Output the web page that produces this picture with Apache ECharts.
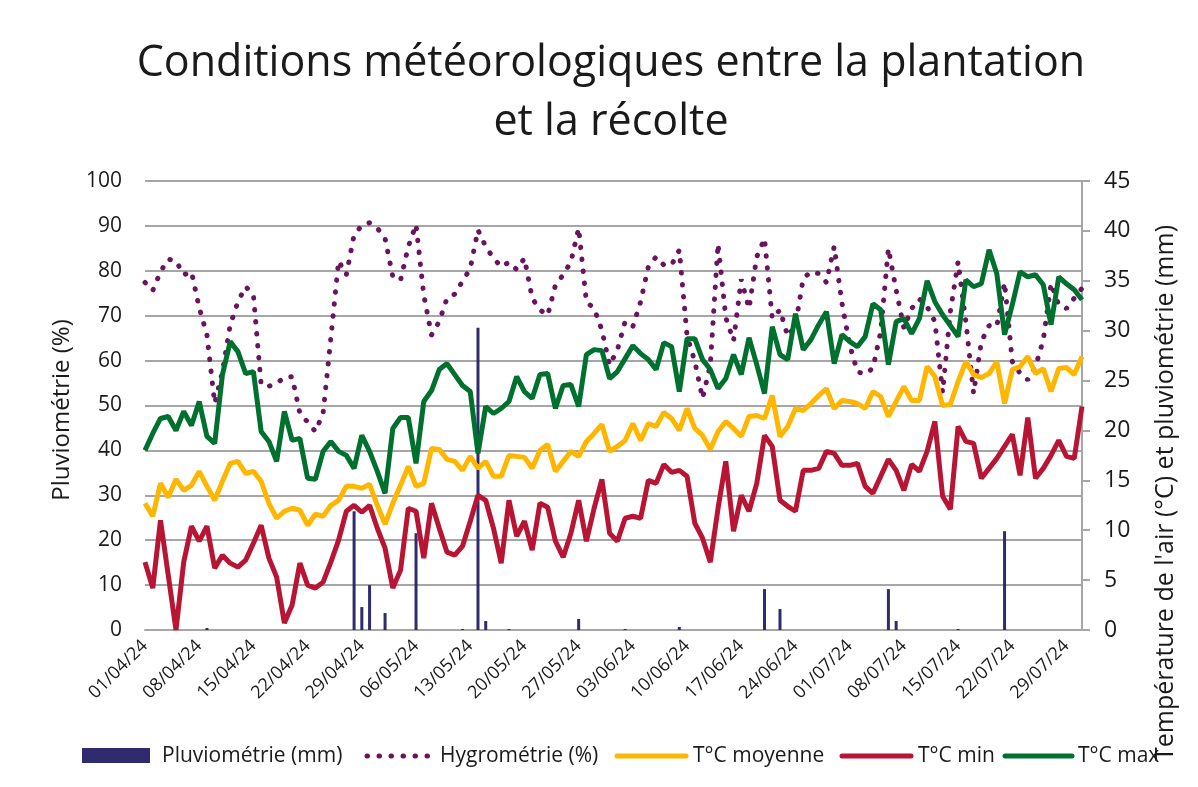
<!DOCTYPE html>
<html>
<head>
<meta charset="utf-8">
<script src="https://cdn.jsdelivr.net/npm/echarts@6/dist/echarts.min.js"></script>
<style>
  html, body { margin: 0; padding: 0; background: #fff; }
  #chart { width: 1198px; height: 787px; }
</style>
</head>
<body>
<div id="chart"></div>
<script>
// daily categories, 01/04/24 -> 31/07/24
var dayCount = 122;
var dates = [];
for (var d = 0; d < dayCount; d++) {
  var dt = new Date(2024, 3, 1 + d);
  var dd = ('0' + dt.getDate()).slice(-2);
  var mm = ('0' + (dt.getMonth() + 1)).slice(-2);
  dates.push(dd + '/' + mm + '/24');
}

// Pluviométrie (mm) - right axis
var pluvio = [
  0, 0, 0, 0, 0, 0, 0, 0, 0.2, 0, 0, 0, 0, 0, 0, 0, 0, 0,
  0, 0, 0, 0, 0, 0, 0, 0, 0, 11.9, 2.3, 4.5, 0, 1.7, 0, 0, 0,
  9.7, 0, 0, 0, 0, 0, 0.1, 0, 30.3, 0.9, 0, 0, 0.1, 0, 0, 0, 0, 0,
  0, 0, 0, 1.1, 0, 0, 0, 0, 0, 0.1, 0, 0, 0, 0, 0, 0, 0.3,
  0, 0, 0, 0, 0, 0, 0, 0, 0, 0, 4.1, 0, 2.1, 0, 0, 0, 0,
  0, 0, 0, 0, 0, 0, 0, 0, 0, 4.1, 0.9, 0, 0, 0, 0, 0, 0, 0,
  0.1, 0, 0, 0, 0, 0, 9.9, 0, 0, 0, 0, 0, 0, 0, 0, 0, 0
];

// Hygrométrie (%) - left axis
var hygro = [
  77.4, 75.6, 79.8, 82.6, 82.2, 79.1, 79.8, 71.8, 65.7, 50.5, 57.5, 67.9, 73.1, 76.5, 74.6, 54.6, 54.3, 54.9,
  56.3, 56.4, 48.3, 46.3, 44.2, 48.3, 65.0, 82.2, 79.1, 88.0, 90.1, 90.7, 89.5, 87.2, 78.7, 77.9, 85.4,
  90.3, 74.6, 65.7, 68.7, 73.9, 74.8, 77.7, 80.5, 89.1, 85.4, 82.8, 80.9, 81.9, 80.3, 82.8, 73.9, 71.3, 70.1,
  76.8, 79.1, 82.0, 89.5, 73.1, 71.6, 66.8, 59.0, 62.4, 68.7, 67.6, 73.1, 80.9, 83.1, 81.3, 81.3, 84.6,
  65.5, 59.8, 51.6, 59.0, 86.0, 69.6, 64.4, 78.1, 71.6, 83.1, 87.2, 69.4, 71.3, 65.4, 67.9, 78.3, 79.8,
  79.4, 77.4, 85.4, 72.8, 63.5, 57.5, 57.0, 58.3, 66.4, 85.0, 75.7, 67.2, 71.6, 73.7, 72.0, 68.7, 52.9, 70.9,
  82.0, 68.7, 52.7, 64.2, 67.8, 67.6, 77.4, 59.8, 57.2, 55.7, 58.7, 64.6, 77.2, 72.4, 71.6, 73.9, 76.1
];

// T°C moyenne - right axis
var tMoy = [
  12.7, 11.4, 14.7, 13.3, 15.1, 14.0, 14.5, 15.9, 14.4, 13.0, 14.9, 16.7, 16.9, 15.7, 15.9, 14.9, 12.7, 11.2,
  11.9, 12.2, 12.0, 10.5, 11.6, 11.4, 12.5, 13.0, 14.4, 14.4, 14.2, 14.6, 12.5, 10.6, 12.7, 14.5, 16.4,
  14.4, 14.7, 18.2, 18.1, 17.1, 16.9, 16.0, 17.4, 16.2, 16.9, 15.4, 15.4, 17.5, 17.4, 17.3, 16.2, 18.0, 18.6,
  15.9, 16.9, 17.9, 17.4, 18.9, 19.7, 20.6, 17.9, 18.4, 19.0, 20.7, 19.0, 20.7, 20.4, 21.8, 21.2, 20.0,
  22.2, 20.2, 19.5, 18.1, 19.9, 20.9, 20.2, 19.4, 21.4, 21.5, 21.2, 23.5, 19.4, 20.4, 22.2, 22.0, 22.7,
  23.5, 24.2, 22.2, 23.0, 22.9, 22.7, 22.2, 23.9, 23.4, 21.4, 22.9, 24.4, 23.0, 23.0, 26.4, 25.4, 22.5, 22.6,
  24.9, 26.9, 25.6, 25.3, 25.7, 26.9, 22.7, 26.1, 26.4, 27.4, 25.7, 26.2, 23.9, 26.2, 26.3, 25.6, 27.4
];

// T°C min - right axis
var tMin = [
  6.8, 4.2, 11.0, 5.5, 0.0, 6.8, 10.4, 8.9, 10.4, 6.2, 7.5, 6.7, 6.3, 7.0, 8.7, 10.5, 7.2, 5.3,
  0.7, 2.5, 6.7, 4.5, 4.2, 4.8, 6.8, 9.0, 11.9, 12.5, 11.8, 12.5, 10.2, 8.2, 4.2, 6.0, 12.2,
  11.9, 7.2, 12.7, 10.2, 7.8, 7.5, 8.4, 10.9, 13.5, 13.0, 10.2, 6.7, 13.0, 9.4, 10.9, 8.0, 12.7, 12.3,
  8.9, 7.3, 9.7, 13.0, 8.9, 12.2, 15.1, 9.7, 8.9, 11.2, 11.4, 11.2, 15.0, 14.7, 16.6, 15.8, 16.0,
  15.4, 10.7, 9.2, 6.8, 12.2, 16.9, 9.9, 13.5, 11.9, 14.7, 19.5, 18.4, 13.0, 12.4, 11.9, 16.0, 16.0,
  16.2, 17.9, 17.7, 16.5, 16.5, 16.7, 14.4, 13.7, 15.4, 17.1, 16.0, 14.0, 16.6, 15.9, 17.9, 20.9, 13.4, 12.1,
  20.4, 18.9, 18.7, 15.2, 16.2, 17.2, 18.4, 19.6, 15.5, 21.3, 15.2, 16.2, 17.5, 19.0, 17.4, 17.2, 22.4
];

// T°C max - right axis
var tMax = [
  18.0, 19.7, 21.2, 21.4, 20.0, 21.9, 20.5, 22.9, 19.4, 18.7, 25.6, 28.9, 27.9, 25.7, 25.9, 19.9, 18.9, 16.9,
  21.9, 19.0, 19.2, 15.2, 15.1, 17.9, 18.9, 17.9, 17.5, 16.2, 19.5, 17.9, 15.9, 13.7, 20.2, 21.3, 21.3,
  16.7, 22.9, 24.0, 26.1, 26.7, 25.6, 24.5, 23.9, 17.7, 22.4, 21.7, 22.2, 22.9, 25.4, 23.9, 23.2, 25.6, 25.7,
  22.2, 24.5, 24.6, 22.4, 27.6, 28.1, 28.0, 25.2, 25.9, 27.2, 28.5, 27.7, 27.1, 26.1, 28.8, 28.4, 23.9,
  29.2, 29.2, 27.1, 26.1, 24.2, 25.2, 27.6, 25.6, 29.3, 26.6, 23.7, 30.4, 27.6, 27.1, 31.7, 28.1, 29.1,
  30.6, 31.9, 26.7, 29.6, 28.9, 28.4, 29.4, 32.7, 32.1, 26.6, 30.9, 31.2, 29.7, 31.2, 35.0, 32.9, 31.6, 30.5,
  29.4, 35.1, 34.4, 34.7, 38.1, 35.7, 29.6, 32.6, 35.9, 35.4, 35.6, 34.6, 30.6, 35.4, 34.7, 34.1, 33.1
];

var legendNames = ['Pluviométrie (mm)', 'Hygrométrie (%)', 'T°C moyenne', 'T°C min', 'T°C max'];

var colors = {
  pluvio: '#302a6e',
  hygro: '#6a145f',
  moy: '#ffb600',
  min: '#b81433',
  max: '#00702f'
};

var FONT = '"Open Sans", "Noto Sans", sans-serif';
var TEXT = '#1a1a1a';
var DOTS = [0.5, 11.5];

// legend drawn by hand so swatches match the original widths
var legendY = 756;
function legendText(x, name) {
  return {
    type: 'text', x: x, y: legendY,
    style: { text: name, fontFamily: FONT, fontSize: 21, fill: TEXT, verticalAlign: 'middle' }
  };
}
function legendLine(x1, x2, color, dash) {
  return {
    type: 'line',
    shape: { x1: x1, y1: legendY, x2: x2, y2: legendY },
    style: { stroke: color, lineWidth: 5, lineCap: 'round', lineDash: dash || null }
  };
}

var chart = echarts.init(document.getElementById('chart'));

var option = {
  backgroundColor: '#fff',
  animation: false,
  textStyle: { fontFamily: FONT },
  graphic: [
    {
      type: 'text',
      x: 611, y: 34,
      style: {
        text: 'Conditions météorologiques entre la plantation\net la récolte',
        align: 'center',
        fontFamily: FONT, fontSize: 43, lineHeight: 59,
        fill: TEXT
      }
    },
    {
      type: 'text',
      x: 62, y: 410, rotation: Math.PI / 2,
      style: {
        text: 'Pluviométrie (%)',
        align: 'center', verticalAlign: 'middle',
        fontFamily: FONT, fontSize: 24, fill: TEXT
      }
    },
    {
      type: 'text',
      x: 1166, y: 493, rotation: Math.PI / 2,
      style: {
        text: "Température de l'air (°C) et pluviométrie (mm)",
        align: 'center', verticalAlign: 'middle',
        fontFamily: FONT, fontSize: 25, fill: TEXT
      }
    },
    {
      type: 'rect',
      shape: { x: 82, y: legendY - 8, width: 68, height: 15 },
      style: { fill: colors.pluvio }
    },
    legendText(162, legendNames[0]),
    legendLine(367, 429, colors.hygro, DOTS),
    legendText(440, legendNames[1]),
    legendLine(617, 686, colors.moy),
    legendText(693, legendNames[2]),
    legendLine(842, 911, colors.min),
    legendText(918, legendNames[3]),
    legendLine(1005, 1072, colors.max),
    legendText(1078, legendNames[4])
  ],
  grid: { left: 145, right: 116, top: 181, bottom: 157 },
  xAxis: {
    type: 'category',
    data: dates,
    boundaryGap: false,
    axisLine: { lineStyle: { color: '#a6a6a6', width: 2 } },
    axisTick: { show: false },
    axisLabel: {
      interval: 6, rotate: 45, margin: 13,
      fontFamily: FONT, fontSize: 18, color: TEXT
    }
  },
  yAxis: [
    {
      type: 'value', min: 0, max: 100, interval: 10,
      axisLine: { show: false },
      axisTick: { show: false },
      axisLabel: { margin: 23, fontFamily: FONT, fontSize: 21, color: TEXT },
      splitLine: { lineStyle: { color: '#a6a6a6', width: 2 } }
    },
    {
      type: 'value', min: 0, max: 45, interval: 5, position: 'right',
      axisLine: { show: true, lineStyle: { color: '#a6a6a6', width: 2 } },
      axisTick: { show: true, length: 8, lineStyle: { color: '#a6a6a6', width: 2 } },
      axisLabel: { margin: 22, fontFamily: FONT, fontSize: 23, color: TEXT },
      splitLine: { show: false }
    }
  ],
  series: [
    {
      name: legendNames[0], type: 'bar', yAxisIndex: 1,
      data: pluvio, barWidth: 3,
      itemStyle: { color: colors.pluvio }
    },
    {
      name: legendNames[1], type: 'line', yAxisIndex: 0,
      data: hygro, symbol: 'none',
      lineStyle: { color: colors.hygro, width: 5, type: DOTS, cap: 'round' }
    },
    {
      name: legendNames[2], type: 'line', yAxisIndex: 1,
      data: tMoy, symbol: 'none',
      lineStyle: { color: colors.moy, width: 5 }
    },
    {
      name: legendNames[3], type: 'line', yAxisIndex: 1,
      data: tMin, symbol: 'none',
      lineStyle: { color: colors.min, width: 5 }
    },
    {
      name: legendNames[4], type: 'line', yAxisIndex: 1,
      data: tMax, symbol: 'none',
      lineStyle: { color: colors.max, width: 5 }
    }
  ]
};

chart.setOption(option);
</script>
</body>
</html>
